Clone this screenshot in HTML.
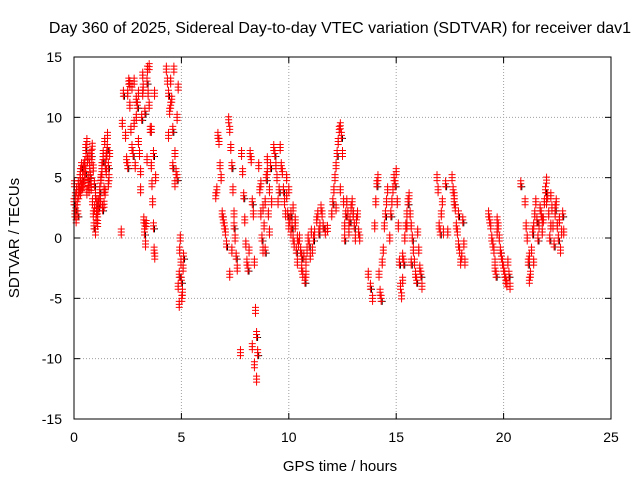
<!DOCTYPE html>
<html><head><meta charset="utf-8"><style>
body{margin:0;background:#fff}
svg{display:block;font-family:"Liberation Sans",sans-serif}
</style></head><body>
<svg id="c" width="640" height="480" viewBox="0 0 640 480" xmlns="http://www.w3.org/2000/svg">
<rect width="640" height="480" fill="#fff"/>
<text x="340" y="33" font-size="16" text-anchor="middle">Day 360 of 2025, Sidereal Day-to-day VTEC variation (SDTVAR) for receiver dav1</text>
<text x="340" y="471" font-size="15" text-anchor="middle">GPS time / hours</text>
<text transform="translate(19,238) rotate(-90)" font-size="15" text-anchor="middle">SDTVAR / TECUs</text>
<g id="grid"></g><g id="ticks"></g><g id="black"></g><g id="marks"></g>
<rect x="74" y="57" width="537" height="362" fill="none" stroke="#000" stroke-width="1"/>
</svg>
<script>
const xTicks=[0,5,10,15,20,25];
const yTicks=[-15,-10,-5,0,5,10,15];
const times=[
0,0.02,0.04,0.06,0.08,0.1,0.12,0.15,0.18,0.2,0.22,0.25,0.28,0.3,0.33,0.36,0.4,0.43,0.46,0.5,0.53,0.56,0.6,0.63,0.66,0.7,0.73,0.76,0.8,0.83,0.86,0.9,0.93,0.96,1.0,1.03,1.06,1.1,1.13,1.16,1.2,1.23,1.26,1.3,1.33,1.36,1.4,1.43,1.46,1.5,1.53,1.56,1.6,1.63,1.66,
0.3,0.35,0.4,0.45,0.5,0.55,0.6,0.65,0.7,0.75,0.8,0.85,0.9,0.95,1.0,1.05,1.1,1.15,1.2,1.25,1.3,1.35,1.4,1.45,1.5,1.55,1.6,
2.2,2.25,2.3,2.4,2.45,2.5,2.55,2.6,2.65,2.7,2.75,2.8,2.85,2.9,2.95,3.0,3.05,3.1,3.15,3.2,3.22,3.25,3.28,3.3,3.33,3.36,3.4,3.42,3.45,3.5,3.55,3.6,3.63,3.66,3.7,3.73,3.76,3.8,2.5,2.6,2.7,2.8,2.9,3.0,3.1,3.2,3.3,3.4,3.5,3.6,3.7,3.75,
4.3,4.35,4.4,4.45,4.5,4.55,4.6,4.65,4.7,4.75,4.8,4.85,4.4,4.5,4.6,4.7,4.8,4.85,4.9,4.92,4.95,4.98,5.0,5.02,5.05,5.08,5.1,4.9,
6.6,6.65,6.7,6.75,6.8,6.85,6.9,6.95,7.0,7.05,7.1,7.2,7.25,7.3,7.35,7.4,7.45,7.5,7.55,7.6,7.25,7.35,7.45,7.75,7.8,7.85,7.9,7.95,8.0,8.05,8.1,8.15,
8.2,8.25,8.3,8.35,8.4,8.45,8.5,8.3,8.4,8.5,8.55,8.6,8.65,8.7,8.75,8.8,8.85,8.9,8.95,9.0,9.05,9.1,9.15,9.2,8.7,8.8,8.9,9.0,9.1,
9.3,9.35,9.4,9.45,9.5,9.55,9.6,9.65,9.7,9.75,9.8,9.85,9.9,9.95,10.0,10.05,10.1,10.15,10.2,10.25,10.3,10.35,10.4,10.45,10.5,10.55,10.6,10.65,10.7,10.75,10.8,10.85,10.9,10.95,11.0,11.05,11.1,11.15,11.2,9.9,10.0,10.1,10.2,10.3,10.4,10.6,10.8,
11.3,11.35,11.4,11.45,11.5,11.55,11.6,11.7,11.8,12.0,12.05,12.1,12.15,12.2,12.25,12.3,12.35,12.4,12.45,12.5,12.55,12.6,12.65,12.7,12.75,12.8,12.85,12.9,12.95,13.0,13.05,13.1,13.15,13.2,13.25,13.3,12.2,12.4,12.6,12.8,13.0,
13.7,13.8,13.9,14.0,14.05,14.1,14.15,14.2,14.25,14.3,14.35,14.4,14.45,14.5,14.55,14.6,14.7,14.75,14.8,14.85,14.9,14.95,15.0,15.05,15.1,15.15,15.2,15.25,15.3,15.35,15.4,15.45,15.5,15.55,15.6,15.65,15.7,15.75,15.8,15.85,15.9,15.95,16.0,16.05,16.1,16.15,16.2,15.3,15.5,15.7,
16.9,16.95,17.0,17.05,17.1,17.15,17.2,17.3,17.4,17.6,17.65,17.7,17.75,17.8,17.85,17.9,17.95,18.0,18.05,18.1,18.15,18.2,17.7,17.9,
19.3,19.35,19.4,19.45,19.5,19.55,19.6,19.65,19.7,19.75,19.8,19.85,19.9,19.95,20.0,20.05,20.1,20.15,20.2,20.25,20.3,19.6,19.7,
20.8,21.0,21.05,21.1,21.15,21.2,21.25,21.3,21.35,21.4,21.45,21.5,21.55,21.6,21.65,21.7,21.75,21.8,21.85,21.9,21.95,22.0,22.05,22.1,22.15,22.2,22.25,22.3,22.35,22.4,22.45,22.5,22.55,22.6,22.65,22.7,22.75,22.8,21.2,21.4,21.6,21.8,22.0,22.2,22.4,22.6
];
const values=[
3,4.5,2,3.5,2.5,1.5,4,3,2,4.5,3.5,4,5,3.8,4.5,4.2,5,4.5,6,5,5.5,7,8,6.5,5,4,6,5,7,6.5,3,2,1,2.5,0.5,1.5,3,2,3,2.5,4,3,5,6,2.5,7,4,8,6,5.5,7,8.5,6,5,7,
5.5,6,4.3,5.8,6.2,7.5,3.8,4.6,6.8,5.2,4.2,7.6,5.8,4.5,3.5,2.2,1.2,2.8,3.5,4.8,5.5,6.5,2.8,3.8,6.8,7.5,4.5,
0.5,9.5,12,8.5,6.5,12,13,11,9,12.5,7,13,6,10,11,12,7,5.5,10,13.5,12.5,1.5,0.5,1,-0.5,1.2,13,14,12,11,9,6,4.5,3,1,-1,-1.5,5,6,12.8,7.5,9.5,11.5,8,4,12,10.5,6.5,14.2,9,7,12,
14,13,12,10.5,13,11.5,9,14,7,5.5,5,12.5,8.5,11,6,4.5,10,-4,-3,-1,0,-2,-3.5,-5,-4.5,-2.5,-1.5,-5.5,
3.5,4,8.5,8,6,5,2,1.5,1,0.5,-0.5,9.8,9,7.5,6,4,2,0,-1.5,-2.5,-3,-1,1,-9.5,7,5.5,3.5,1.5,-0.5,-2,-2.5,-1,
7,6.5,3,2,-2,-6,-8,-9,-10.5,-11.7,-9.5,6,4,2,0,-1,1,3,5,6.5,2,4,6,3,4.5,2.5,-1,5.5,0.5,
7.5,7,6,5,3,4,7.5,6,5.5,4,3,2,3.5,2,1,1.5,0.5,1,0,-0.5,1,-1,-2,-0.5,0,-1,-2.5,-3,-1.5,-3.5,-2,-1,0,-0.5,-1.5,0.5,-1,0,0.5,5,4,2,2.5,1.5,0,-1.5,-3,
1.5,2,0.5,1,2.5,2,1,0.5,0.8,2,3,4,5,6,7,8,9,9.3,8.5,7,3,1,2,3,2,0.5,1.5,2.5,3,2,1,0,1.5,2,0.5,0,2.5,4,0,1,2,
-3,-4,-5,1,3,4.5,5,-3,-4.5,-5,-2,-1,1,2,3,4,0,2,3,4,5,4.5,5.5,3,1,-2,-4,-4.8,-3.5,-2,0,1,2,3,3.5,2,1,0,-1,-2,-3,-3.5,0.5,-1,-2.5,-3,-4,-1.5,1,-2,
5,4,1,0.5,2,3,0.5,4.5,0.5,5,4,3,2.5,1,0.5,-0.5,-1,-2,-1.5,1.5,-0.5,-2,3.5,2,
2,1.5,1,0,-0.5,-1,-2,-3,0.5,1,0,-1,-1.5,-2,-2.5,-3,-3.5,-3.8,-2,-3,-4,-2.5,1.5,
4.5,3,1,0,-2,-3.5,-3,-1,0.5,1,2,3,1.5,0,1,2.5,2,0.5,1.5,3,4,4.8,3.5,2,0,1,2.5,1,-0.5,2,3,1,0,1.5,-1,0.5,2,0.5,-1.5,-2,0,1.5,3,3.5,2.5,1.5
];
const X=v=>74+v*537/25, Y=v=>238-v*362/30;
const ns="http://www.w3.org/2000/svg";
const grid=document.getElementById('grid'), tk=document.getElementById('ticks'), mk=document.getElementById('marks'), bk=document.getElementById('black');
function el(tag,attrs,parent){const e=document.createElementNS(ns,tag);for(const k in attrs)e.setAttribute(k,attrs[k]);parent.appendChild(e);return e;}
xTicks.forEach(t=>{
  if(t>0&&t<25){const g=el('line',{x1:X(t),x2:X(t),y1:57,y2:419,stroke:'#a0a0a0','stroke-dasharray':'1,2'},grid);
  
  }
  const l=el('text',{x:X(t),y:442,'font-size':14,'text-anchor':'middle'},tk);l.textContent=t;
  
  
  el('line',{x1:X(t),x2:X(t),y1:419,y2:413,stroke:'#000'},tk);
  el('line',{x1:X(t),x2:X(t),y1:57,y2:63,stroke:'#000'},tk);
});
yTicks.forEach(t=>{
  if(t>-15&&t<15){const g=el('line',{x1:74,x2:611,y1:Y(t),y2:Y(t),stroke:'#a0a0a0','stroke-dasharray':'1,2'},grid);
  
  }
  const l=el('text',{x:62,y:Y(t)+5,'font-size':14,'text-anchor':'end'},tk);l.textContent=t;
  
  
  el('line',{x1:74,x2:80,y1:Y(t),y2:Y(t),stroke:'#000'},tk);
  el('line',{x1:611,x2:605,y1:Y(t),y2:Y(t),stroke:'#000'},tk);
});
for(let i=0;i<times.length&&i<values.length;i++){
  const x=X(times[i]),y=Y(values[i]);
  if(i%4===0){
    const b=el('path',{d:`M${x-2.5} ${y+3}h7M${x+1} ${y-0.5}v7`,stroke:'#000','stroke-width':1,fill:'none'},bk);
    
    
  }
  [-3,0,3].forEach(o=>{
    const p=el('path',{d:`M${x-3.5} ${y+o}h7M${x} ${y-3.5+o}v7`,stroke:'#f00','stroke-width':1,fill:'none'},mk);
    
    
  });
}
</script>
</body></html>
